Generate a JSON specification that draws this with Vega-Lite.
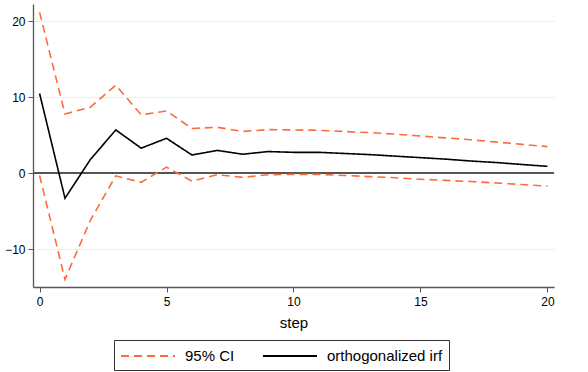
{
  "$schema": "https://vega.github.io/schema/vega-lite/v6.json",
  "width": 521,
  "height": 283,
  "autosize": "none",
  "padding": {"left": 33, "top": 4, "right": 34, "bottom": 85},
  "background": "white",
  "config": {
    "font": "Liberation Sans",
    "view": {"stroke": null},
    "axis": {"labelFont": "Liberation Sans", "titleFont": "Liberation Sans", "labelColor": "#000000", "titleColor": "#000000"}
  },
  "data": {"values": [
    {"step": 0, "value": 21.2, "series": "95% CI", "line": "upper"},
    {"step": 1, "value": 7.8, "series": "95% CI", "line": "upper"},
    {"step": 2, "value": 8.7, "series": "95% CI", "line": "upper"},
    {"step": 3, "value": 11.6, "series": "95% CI", "line": "upper"},
    {"step": 4, "value": 7.7, "series": "95% CI", "line": "upper"},
    {"step": 5, "value": 8.2, "series": "95% CI", "line": "upper"},
    {"step": 6, "value": 5.9, "series": "95% CI", "line": "upper"},
    {"step": 7, "value": 6.05, "series": "95% CI", "line": "upper"},
    {"step": 8, "value": 5.5, "series": "95% CI", "line": "upper"},
    {"step": 9, "value": 5.75, "series": "95% CI", "line": "upper"},
    {"step": 10, "value": 5.7, "series": "95% CI", "line": "upper"},
    {"step": 11, "value": 5.65, "series": "95% CI", "line": "upper"},
    {"step": 12, "value": 5.5, "series": "95% CI", "line": "upper"},
    {"step": 13, "value": 5.35, "series": "95% CI", "line": "upper"},
    {"step": 14, "value": 5.15, "series": "95% CI", "line": "upper"},
    {"step": 15, "value": 4.9, "series": "95% CI", "line": "upper"},
    {"step": 16, "value": 4.65, "series": "95% CI", "line": "upper"},
    {"step": 17, "value": 4.4, "series": "95% CI", "line": "upper"},
    {"step": 18, "value": 4.1, "series": "95% CI", "line": "upper"},
    {"step": 19, "value": 3.8, "series": "95% CI", "line": "upper"},
    {"step": 20, "value": 3.5, "series": "95% CI", "line": "upper"},
    {"step": 0, "value": -0.3, "series": "95% CI", "line": "lower"},
    {"step": 1, "value": -14.0, "series": "95% CI", "line": "lower"},
    {"step": 2, "value": -6.2, "series": "95% CI", "line": "lower"},
    {"step": 3, "value": -0.35, "series": "95% CI", "line": "lower"},
    {"step": 4, "value": -1.2, "series": "95% CI", "line": "lower"},
    {"step": 5, "value": 0.8, "series": "95% CI", "line": "lower"},
    {"step": 6, "value": -1.05, "series": "95% CI", "line": "lower"},
    {"step": 7, "value": -0.2, "series": "95% CI", "line": "lower"},
    {"step": 8, "value": -0.55, "series": "95% CI", "line": "lower"},
    {"step": 9, "value": -0.2, "series": "95% CI", "line": "lower"},
    {"step": 10, "value": -0.15, "series": "95% CI", "line": "lower"},
    {"step": 11, "value": -0.15, "series": "95% CI", "line": "lower"},
    {"step": 12, "value": -0.3, "series": "95% CI", "line": "lower"},
    {"step": 13, "value": -0.45, "series": "95% CI", "line": "lower"},
    {"step": 14, "value": -0.6, "series": "95% CI", "line": "lower"},
    {"step": 15, "value": -0.8, "series": "95% CI", "line": "lower"},
    {"step": 16, "value": -0.95, "series": "95% CI", "line": "lower"},
    {"step": 17, "value": -1.1, "series": "95% CI", "line": "lower"},
    {"step": 18, "value": -1.3, "series": "95% CI", "line": "lower"},
    {"step": 19, "value": -1.5, "series": "95% CI", "line": "lower"},
    {"step": 20, "value": -1.7, "series": "95% CI", "line": "lower"},
    {"step": 0, "value": 10.5, "series": "orthogonalized irf", "line": "irf"},
    {"step": 1, "value": -3.3, "series": "orthogonalized irf", "line": "irf"},
    {"step": 2, "value": 1.8, "series": "orthogonalized irf", "line": "irf"},
    {"step": 3, "value": 5.7, "series": "orthogonalized irf", "line": "irf"},
    {"step": 4, "value": 3.3, "series": "orthogonalized irf", "line": "irf"},
    {"step": 5, "value": 4.6, "series": "orthogonalized irf", "line": "irf"},
    {"step": 6, "value": 2.4, "series": "orthogonalized irf", "line": "irf"},
    {"step": 7, "value": 3.0, "series": "orthogonalized irf", "line": "irf"},
    {"step": 8, "value": 2.5, "series": "orthogonalized irf", "line": "irf"},
    {"step": 9, "value": 2.85, "series": "orthogonalized irf", "line": "irf"},
    {"step": 10, "value": 2.75, "series": "orthogonalized irf", "line": "irf"},
    {"step": 11, "value": 2.75, "series": "orthogonalized irf", "line": "irf"},
    {"step": 12, "value": 2.6, "series": "orthogonalized irf", "line": "irf"},
    {"step": 13, "value": 2.45, "series": "orthogonalized irf", "line": "irf"},
    {"step": 14, "value": 2.25, "series": "orthogonalized irf", "line": "irf"},
    {"step": 15, "value": 2.05, "series": "orthogonalized irf", "line": "irf"},
    {"step": 16, "value": 1.85, "series": "orthogonalized irf", "line": "irf"},
    {"step": 17, "value": 1.6, "series": "orthogonalized irf", "line": "irf"},
    {"step": 18, "value": 1.4, "series": "orthogonalized irf", "line": "irf"},
    {"step": 19, "value": 1.15, "series": "orthogonalized irf", "line": "irf"},
    {"step": 20, "value": 0.9, "series": "orthogonalized irf", "line": "irf"}
  ]},
  "layer": [
    {
      "mark": {"type": "rule", "color": "#555555", "strokeWidth": 1.5},
      "encoding": {"y": {"datum": 0, "type": "quantitative"}}
    },
    {
      "mark": {"type": "line", "strokeWidth": 1.6, "clip": true},
      "encoding": {
        "x": {
          "field": "step", "type": "quantitative",
          "scale": {"domain": [-0.26, 20.26], "nice": false, "zero": false},
          "axis": {
            "values": [0, 5, 10, 15, 20], "title": "step", "grid": false,
            "domainColor": "#555555", "domainWidth": 1.3, "tickColor": "#555555", "tickSize": 5,
            "labelFontSize": 12, "labelPadding": 4, "titleFontSize": 15, "titleFontWeight": "normal", "titlePadding": 8
          }
        },
        "y": {
          "field": "value", "type": "quantitative",
          "scale": {"domain": [-15.0, 22.3], "nice": false, "zero": false},
          "axis": {
            "values": [-10, 0, 10, 20], "title": null, "grid": true, "gridColor": "#E8F0F2", "gridWidth": 1,
            "domainColor": "#555555", "domainWidth": 1.3, "tickColor": "#555555", "tickSize": 5,
            "labelFontSize": 12, "labelPadding": 3
          }
        },
        "color": {
          "field": "series", "type": "nominal",
          "scale": {"domain": ["95% CI", "orthogonalized irf"], "range": ["#FF6A3D", "#000000"]},
          "legend": {
            "orient": "none", "legendX": 81, "legendY": 336, "direction": "horizontal",
            "title": null, "strokeColor": "#333333", "padding": 6, "symbolType": "M-1,0H5",
            "symbolSize": 324, "symbolStrokeWidth": 2, "labelFontSize": 15, "labelFont": "Liberation Sans",
            "labelColor": "#000000", "columnPadding": 24, "labelOffset": 45
          }
        },
        "strokeDash": {
          "field": "series", "type": "nominal",
          "scale": {"domain": ["95% CI", "orthogonalized irf"], "range": [[8, 5], [1, 0]]}
        },
        "detail": {"field": "line"}
      }
    }
  ]
}
